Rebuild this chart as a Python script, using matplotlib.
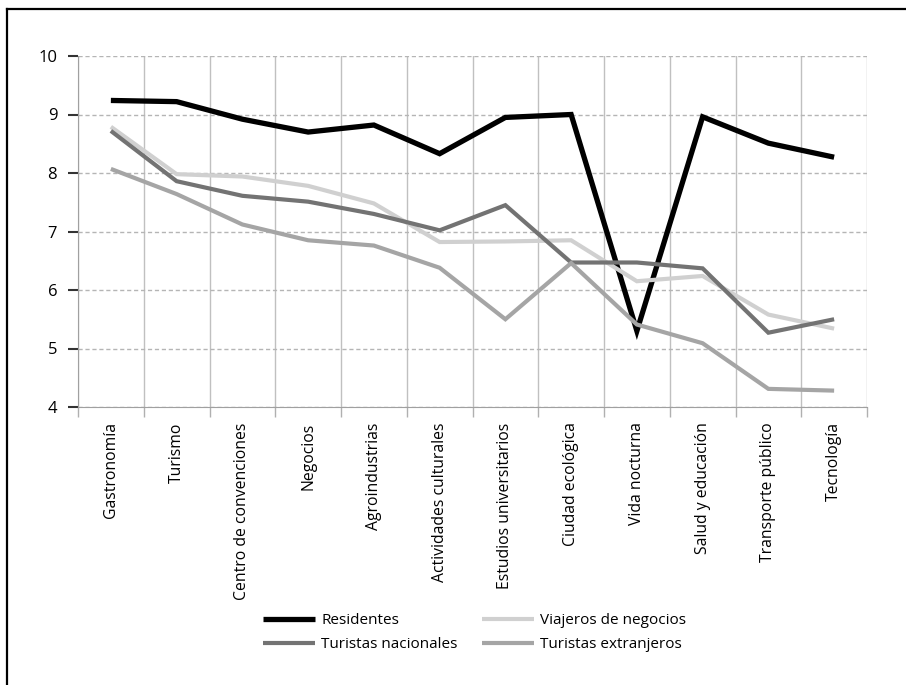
import numpy as np
import matplotlib
matplotlib.use('Agg')
import matplotlib.pyplot as plt
from matplotlib.lines import Line2D

categorias=['Gastronomía','Turismo','Centro de convenciones','Negocios','Agroindustrias',
    'Actividades culturales','Estudios universitarios','Ciudad ecológica','Vida nocturna',
    'Salud y educación','Transporte público','Tecnología']
residentes=[9.24,9.22,8.92,8.70,8.82,8.33,8.95,9.00,5.30,8.96,8.51,8.27]
viajeros_negocios=[8.79,7.98,7.94,7.78,7.48,6.82,6.83,6.85,6.15,6.24,5.58,5.34]
turistas_nacionales=[8.72,7.86,7.61,7.51,7.30,7.02,7.45,6.47,6.47,6.37,5.27,5.50]
turistas_extranjeros=[8.07,7.64,7.12,6.85,6.76,6.38,5.50,6.46,5.41,5.09,4.31,4.28]
yticks=[4,5,6,7,8,9,10]

plt.rcParams['font.family']=['Open Sans','DejaVu Sans']

fig=plt.figure(figsize=(9.06,6.85),dpi=100)
# frame lines on the page (left and top only)
fig.add_artist(Line2D([7/906,7/906],[0,1-9/685],color='black',lw=1.6,transform=fig.transFigure))
fig.add_artist(Line2D([7/906,1],[1-9/685,1-9/685],color='black',lw=1.6,transform=fig.transFigure))

ax=fig.add_axes([78/906,1-407/685,789/906,351/685])
n=len(categorias)
x=np.arange(n)+0.5
lines={}
series=[(residentes,'Residentes','#000000',3.8),
        (viajeros_negocios,'Viajeros de negocios','#d0d0d0',3.0),
        (turistas_nacionales,'Turistas nacionales','#737373',3.0),
        (turistas_extranjeros,'Turistas extranjeros','#a5a5a5',3.0)]
for vals,lab,col,lw in series:
    lines[lab],=ax.plot(x,vals,color=col,lw=lw,label=lab,solid_joinstyle='miter',solid_capstyle='butt',zorder=3)

ax.set_xlim(0,n)
ax.set_ylim(4,10)
ax.set_yticks(yticks)
ax.set_yticklabels([str(v) for v in yticks],fontsize=12)
ax.set_xticks(np.arange(n+1))
ax.set_xticklabels([])
ax.set_xticks(x,minor=True)
ax.set_xticklabels(categorias,minor=True,rotation=90,fontsize=11.3)
ax.tick_params(axis='x',which='major',length=7,color='#b0b0b0',width=1)
ax.tick_params(axis='x',which='minor',length=0,pad=11)
ax.tick_params(axis='y',length=7,color='#333333',width=1.5,pad=8)
for s in ['top','right']:
    ax.spines[s].set_visible(False)
ax.spines['left'].set_color('#a0a0a0')
ax.spines['bottom'].set_color('#a0a0a0')
ax.grid(axis='y',color='#b5b5b5',ls=(0,(3,2)),lw=1)
ax.grid(axis='x',which='major',color='#c0c0c0',ls='-',lw=1)
ax.set_axisbelow(True)

# legend fills column-wise, so order gives two rows: Residentes/Viajeros, Nacionales/Extranjeros
orden=['Residentes','Turistas nacionales','Viajeros de negocios','Turistas extranjeros']
fig.legend([lines[k] for k in orden],orden,loc='upper left',bbox_to_anchor=(263/906,1-613/685),ncol=2,frameon=False,
    fontsize=11,handlelength=3.4,handletextpad=0.4,columnspacing=1.6,labelspacing=0.6,
    borderpad=0,borderaxespad=0)

fig.savefig('out.png',dpi=100)
